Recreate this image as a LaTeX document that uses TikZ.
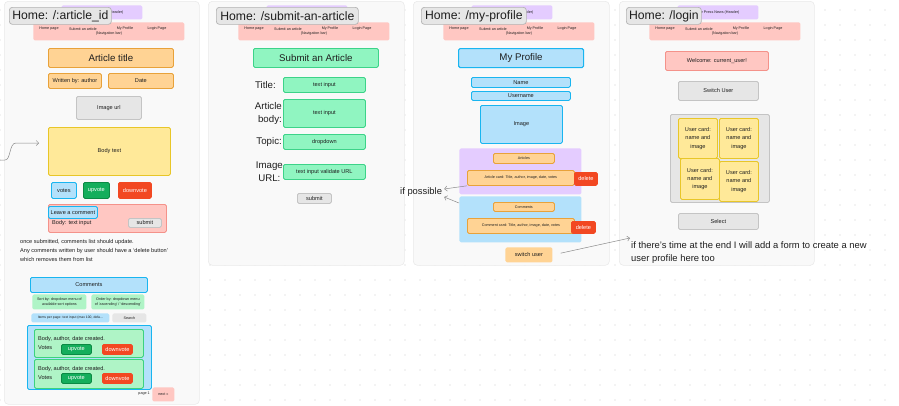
\documentclass[tikz,border=0pt]{standalone}
\usepackage{fontspec}
\setmainfont{Liberation Sans}
\usetikzlibrary{arrows.meta}

\definecolor{ink}{HTML}{1E1E1E}
\definecolor{dotc}{HTML}{C9C9C9}
\definecolor{panelbg}{HTML}{F9F9F9}
\definecolor{panelline}{HTML}{EAEAEA}
\definecolor{tagfill}{HTML}{E6E6E6}
\definecolor{tagline}{HTML}{B3B3B3}
\definecolor{purpfill}{HTML}{E4CCFF}
\definecolor{pinkfill}{HTML}{FFC7C2}
\definecolor{pinkline}{HTML}{F4928A}
\definecolor{orfill}{HTML}{FFD394}
\definecolor{orline}{HTML}{E8A23A}
\definecolor{yefill}{HTML}{FFE999}
\definecolor{yeline}{HTML}{E8C628}
\definecolor{grfill}{HTML}{E6E6E6}
\definecolor{grline}{HTML}{C4C4C4}
\definecolor{blfill}{HTML}{B3E1FB}
\definecolor{blline}{HTML}{19B5F0}
\definecolor{mintfill}{HTML}{90F5C1}
\definecolor{mintline}{HTML}{3DD389}
\definecolor{leaffill}{HTML}{AFF4C6}
\definecolor{leafline}{HTML}{3CD27F}
\definecolor{gofill}{HTML}{14AE5C}
\definecolor{goline}{HTML}{0B8A44}
\definecolor{redfill}{HTML}{F24822}
\definecolor{arrowc}{HTML}{8A8A8A}

\newcommand\szNav{\fontsize{3.7}{4.6}\selectfont}
\newcommand\szSmall{\fontsize{5.6}{7}\selectfont}
\newcommand\szList{\fontsize{5.6}{9}\selectfont}
\newcommand\szCard{\fontsize{5.6}{8.3}\selectfont}
\newcommand\szHead{\fontsize{9.7}{13}\selectfont}
\newcommand\szNote{\fontsize{9.4}{13.3}\selectfont}
\newcommand\szTag{\fontsize{12.2}{14}\selectfont}

\tikzset{
  wh/.style 2 args={minimum width=#1,minimum height=#2},
  bx/.style={anchor=north west, inner sep=0pt, rounded corners=1.5pt, line width=0.8pt,
    align=center, font=\szSmall, text=ink},
  panel/.style={anchor=north west, inner sep=0pt, fill=panelbg, draw=panelline,
    line width=0.6pt, rounded corners=4pt},
  tag/.style={bx, fill=tagfill, draw=tagline, line width=0.7pt, rounded corners=3pt, font=\szTag},
  orangebox/.style={bx, fill=orfill, draw=orline},
  yellowbox/.style={bx, fill=yefill, draw=yeline},
  greybox/.style={bx, fill=grfill, draw=grline},
  bluebox/.style={bx, fill=blfill, draw=blline},
  mintbox/.style={bx, fill=mintfill, draw=mintline},
  leafbox/.style={bx, fill=leaffill, draw=leafline},
  gobox/.style={bx, fill=gofill, draw=goline, text=white},
  redbox/.style={bx, fill=redfill, draw=redfill, text=white},
  pinkbox/.style={bx, fill=pinkfill, draw=pinkline},
  flat/.style={bx, draw=none},
  lbl/.style={inner sep=0pt, text=ink},
  arr/.style={draw=arrowc, line width=0.5pt, -{Straight Barb[length=2.5pt,width=5pt]}},
  navhead/.pic={
    \node[flat, fill=purpfill, wh={81}{14}, font=\szNav] (-hd) at (28,-17) {The Press News (Header)};
    \node[flat, fill=pinkfill, wh={151}{18}] (-bar) at (0,0) {};
    \node[lbl, font=\szNav] (-home) at (16,7) {Home page};
    \node[lbl, font=\szNav] (-submit) at (50,7) {Submit an article};
    \node[lbl, font=\szNav] (-profile) at (92,7) {My Profile};
    \node[lbl, font=\szNav] (-login) at (124,7) {Login Page};
    \node[lbl, font=\szNav] (-caption) at (76,12) {(Navigation bar)};
  }
}

\begin{document}
\begin{tikzpicture}[x=1pt,y=-1pt]
\useasboundingbox (0,0) rectangle (899,405);

% canvas dot grid
\foreach \i in {0,...,60}
  \foreach \j in {0,...,26}
    \fill[dotc] (15*\i,15*\j+10) circle (0.55);

% page frames
\node[panel, wh={195}{403}] (pan1) at (4,1) {};
\node[panel, wh={196}{264}] (pan2) at (208,1) {};
\node[panel, wh={196}{264}] (pan3) at (413,1) {};
\node[panel, wh={195}{264}] (pan4) at (619,1) {};

% header + navigation bar on every page
\pic (nav1) at (33,22) {navhead};
\pic (nav2) at (238,22) {navhead};
\pic (nav3) at (443,22) {navhead};
\pic (nav4) at (649,22) {navhead};

% route tags
\node[tag, wh={102}{17}] (tag1) at (9,7) {Home: /:article\_id};
\node[tag, wh={142}{17}] (tag2) at (216,7) {Home: /submit-an-article};
\node[tag, wh={105}{17}] (tag3) at (421,7) {Home: /my-profile};
\node[tag, wh={75}{17}] (tag4) at (626,7) {Home: /login};

% ---------- article page ----------
\node[orangebox, wh={125}{19}, font=\szHead] (atitle) at (48,48) {Article title};
\node[orangebox, wh={53}{15}] (author) at (48,73) {Written by: author};
\node[orangebox, wh={65}{15}] (adate) at (108,73) {Date};
\node[greybox, wh={65}{23}] (imgurl) at (76,96) {Image url};
\node[yellowbox, wh={122}{48}] (body) at (48,127) {Body text};
\coordinate (inStart) at (-2,160);
\coordinate (inEnd) at (39,143);
\draw[arr] (inStart) -- (5,160) .. controls (11,160) and (9,143) .. (16,143) -- (inEnd);

\node[bluebox, wh={25}{16}] (votes) at (51,182) {votes};
\node[gobox, wh={26}{16}] (up1) at (83,182) {upvote};
\node[redbox, wh={33}{16}] (down1) at (118,182) {downvote};

\node[pinkbox, wh={118}{28}] (leave) at (48,204) {};
\node[bluebox, wh={49}{12}] (leavelbl) at (48,206) {Leave a comment};
\node[lbl, font=\szSmall, anchor=west] (bodyin) at (52,223) {Body: text input};
\node[greybox, wh={33}{9}] (sub1) at (128,218) {submit};

\node[lbl, font=\szList, anchor=north west, align=left] (note1) at (20,239)
  {once submitted, comments list should update.\\
   Any comments written by user should have a `delete button'\\
   which removes them from list};

\node[bluebox, wh={117}{15}] (comments) at (30,277) {Comments};
\node[flat, fill=leaffill, wh={54}{15}, font=\szNav] (sortby) at (32,294)
  {Sort by: dropdown menu of\\available sort options};
\node[flat, fill=leaffill, wh={53}{15}, font=\szNav] (orderby) at (91,294)
  {Order by: dropdown menu\\of `ascending' / `descending'};
\node[flat, fill=blfill, wh={78}{9}, font=\fontsize{3.4}{4}\selectfont] (items) at (31,313)
  {Items per page: text input (max 100, defa...};
\node[flat, fill=grfill, wh={34}{9}, font=\szNav] (search) at (112,313) {Search};

\node[bluebox, wh={124}{64}] (clist) at (27,325) {};
\node[leafbox, wh={109}{28}] (card1) at (34,329) {};
\node[lbl, font=\szSmall, anchor=west] (c1text) at (38,339) {Body, author, date created.};
\node[lbl, font=\szSmall, anchor=west] (c1votes) at (38,348) {Votes};
\node[gobox, wh={30}{10}] (c1up) at (61,344) {upvote};
\node[redbox, wh={30}{10}] (c1down) at (102,344) {downvote};
\node[leafbox, wh={109}{29}] (card2) at (34,359) {};
\node[lbl, font=\szSmall, anchor=west] (c2text) at (38,369) {Body, author, date created.};
\node[lbl, font=\szSmall, anchor=west] (c2votes) at (38,378) {Votes};
\node[gobox, wh={30}{10}] (c2up) at (61,373) {upvote};
\node[redbox, wh={30}{10}] (c2down) at (102,373) {downvote};

\node[lbl, font=\szNav, anchor=east] (pageno) at (150,394) {page 1};
\node[flat, fill=pinkfill, wh={22}{14}, font=\szNav] (next) at (152,387) {next >>};

% ---------- submit page ----------
\node[mintbox, wh={125}{19}, font=\szHead] (subtitle) at (253,48) {Submit an Article};
\node[lbl, font=\szHead, anchor=east] (ltitle) at (276,85) {Title:};
\node[mintbox, wh={82}{15}] (in1) at (283,77) {text input};
\node[lbl, font=\szHead, anchor=east, align=right] (lbody) at (282,113.5) {Article\\body:};
\node[mintbox, wh={82}{28}] (in2) at (283,99) {text input};
\node[lbl, font=\szHead, anchor=east] (ltopic) at (282,142) {Topic:};
\node[mintbox, wh={82}{15}] (in3) at (283,134) {dropdown};
\node[lbl, font=\szHead, anchor=east, align=center] (lurl) at (283,172) {Image\\URL:};
\node[mintbox, wh={82}{15}] (in4) at (283,164) {text input validate URL};
\node[greybox, wh={34}{10}] (sub2) at (297,193) {submit};

% ---------- profile page ----------
\node[bluebox, line width=1.1pt, wh={125}{19}, font=\szHead] (mp) at (458,48) {My Profile};
\node[bluebox, wh={99}{10}] (pname) at (471,77) {Name};
\node[bluebox, wh={99}{9}] (puser) at (471,91) {Username};
\node[bluebox, wh={82}{38}] (pimg) at (480,105) {Image};

\node[flat, fill=purpfill, wh={122}{46}] (acont) at (459,148) {};
\node[orangebox, wh={61}{10}, font=\szNav] (alabel) at (493,153) {Articles};
\node[orangebox, wh={107}{15}, font=\szNav] (acard) at (467,170) {Article card: Title, author, image, date, votes};
\node[redbox, wh={23}{13}] (adel) at (574,172) {delete};

\node[flat, fill=blfill, wh={122}{46}] (ccont) at (459,196) {};
\node[orangebox, wh={61}{9}, font=\szNav] (clabel) at (493,202) {Comments};
\node[orangebox, wh={107}{15}, font=\szNav] (ccard) at (467,218) {Comment card: Title, author, image, date, votes};
\node[redbox, wh={24}{12}] (cdel) at (571,221) {delete};

\node[flat, fill=orfill, wh={47}{15}] (swuser) at (505,247) {switch user};

\node[lbl, font=\szNote, anchor=west] (ifp) at (400,192) {if possible};
\draw[arr] (acard.south west) -- ([xshift=2pt,yshift=3pt]ifp.east);
\draw[arr] ([yshift=-7pt]ccont.north west) -- ([xshift=2pt,yshift=-5pt]ifp.east);

% ---------- login page ----------
\node[pinkbox, wh={103}{19}] (welcome) at (665,51) {Welcome: current\_user!};
\node[greybox, wh={80}{19}] (switch) at (678,81) {Switch User};
\node[greybox, wh={99}{88}] (ucont) at (670,114) {};
\node[yellowbox, wh={39}{40}, font=\szCard] (uc1) at (678,118) {User card:\\name and\\image};
\node[yellowbox, wh={39}{40}, font=\szCard] (uc2) at (719,118) {User card:\\name and\\image};
\node[yellowbox, wh={39}{41}, font=\szCard] (uc3) at (680,158) {User card:\\name and\\image};
\node[yellowbox, wh={39}{40}, font=\szCard] (uc4) at (719,161) {User card:\\name and\\image};
\node[greybox, wh={80}{16}] (select) at (678,213) {Select};

\node[lbl, font=\szNote, anchor=north west, align=left] (later) at (631,241)
  {if there’s time at the end I will add a form to create a new\\user profile here too};
\coordinate (laterTip) at (630,238);
\draw[arr, shorten <=8pt] (swuser.east) -- (laterTip);

\end{tikzpicture}
\end{document}
